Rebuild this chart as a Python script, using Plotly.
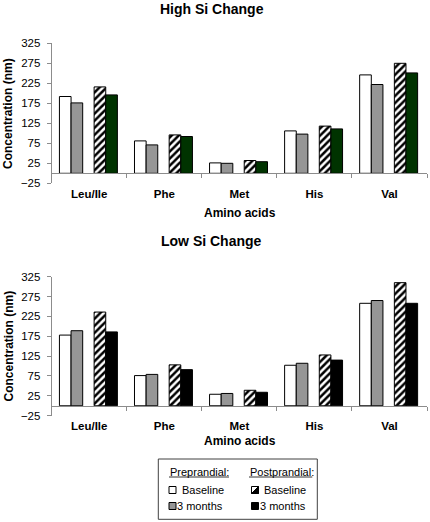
import plotly.graph_objects as go

categories = ["Leu/Ile", "Phe", "Met", "His", "Val"]

# High Si Change
high_pre_baseline = [192, 81, 26, 106, 246]
high_pre_3months = [176, 71, 25, 98, 222]
high_post_baseline = [216, 96, 32, 118, 275]
high_post_3months = [196, 92, 29, 111, 251]

# Low Si Change
low_pre_baseline = [178, 76, 29, 102, 258]
low_pre_3months = [189, 79, 31, 107, 265]
low_post_baseline = [236, 103, 39, 128, 310]
low_post_3months = [186, 91, 34, 115, 258]

y_tick_vals = [-25, 25, 75, 125, 175, 225, 275, 325]

W, H = 430, 522
FONT = "Arial, Liberation Sans, sans-serif"
GRAY = "#969696"
AXIS = "#8c8c8c"


def px(x, y):
    return x / W, 1 - y / H


fig = go.Figure()

bar_w = 0.155
offsets = [-0.397, -0.242, 0.065, 0.220]


def add_group(xa, ya, vals, dark):
    specs = [
        ("Baseline", vals[0], dict(color="white")),
        ("3 months", vals[1], dict(color=GRAY)),
        ("Baseline", vals[2], dict(color="white", pattern=dict(shape="/", fgcolor="black", bgcolor="white", size=5, solidity=0.5))),
        ("3 months", vals[3], dict(color=dark)),
    ]
    for (name, v, mk), off in zip(specs, offsets):
        mk = dict(mk)
        mk["line"] = dict(color="black", width=1)
        fig.add_trace(go.Bar(
            x=categories, y=v, name=name, marker=mk, width=bar_w, offset=off,
            xaxis=xa, yaxis=ya, showlegend=False, hoverinfo="skip",
        ))


add_group("x", "y", [high_pre_baseline, high_pre_3months, high_post_baseline, high_post_3months], "#003300")
add_group("x2", "y2", [low_pre_baseline, low_pre_3months, low_post_baseline, low_post_3months], "#000000")

# invisible traces so the zero-line (category boundary) axes get drawn
fig.add_trace(go.Scatter(x=[None], y=[None], xaxis="x3", yaxis="y", showlegend=False, hoverinfo="skip"))
fig.add_trace(go.Scatter(x=[None], y=[None], xaxis="x4", yaxis="y2", showlegend=False, hoverinfo="skip"))

xdom = [51.7 / W, 427 / W]
top_dom = [1 - 183.3 / H, 1 - 43.3 / H]
bot_dom = [1 - 415.7 / H, 1 - 276.7 / H]


def zero_pos(dom):
    return dom[0] + (dom[1] - dom[0]) * (25 / 350)


common_x = dict(
    domain=xdom, type="category", range=[-0.5, len(categories) - 0.5],
    showline=False, showgrid=False, zeroline=False, ticks="", automargin=False,
    tickfont=dict(family=FONT, size=11.5, color="black", weight="bold"),
    ticklabelstandoff=2,
)
common_y = dict(
    range=[-25, 325], tickvals=y_tick_vals, showgrid=False, zeroline=False,
    showline=True, linecolor=AXIS, linewidth=1, ticks="outside", ticklen=4,
    tickcolor=AXIS, tickfont=dict(family=FONT, size=11.5, color="black"),
    ticklabelstandoff=4, automargin=False,
)
bound_x = dict(
    domain=xdom, range=[-0.5, len(categories) - 0.5], anchor="free", type="linear",
    tickvals=[i + 0.5 for i in range(len(categories))], showticklabels=False,
    ticks="outside", ticklen=4, tickcolor=AXIS, showline=True, linecolor=AXIS,
    linewidth=1, showgrid=False, zeroline=False, automargin=False,
)

fig.update_layout(
    template="none",
    width=W, height=H, margin=dict(l=0, r=0, t=0, b=0, autoexpand=False),
    paper_bgcolor="white", plot_bgcolor="white", barmode="overlay",
    showlegend=False, hovermode=False,
    xaxis=dict(common_x, anchor="y"),
    yaxis=dict(common_y, domain=top_dom, anchor="x"),
    xaxis2=dict(common_x, anchor="y2"),
    yaxis2=dict(common_y, domain=bot_dom, anchor="x2"),
    xaxis3=dict(bound_x, overlaying="x", position=zero_pos(top_dom)),
    xaxis4=dict(bound_x, overlaying="x2", position=zero_pos(bot_dom)),
)

ann = []


def text(x, y, s, size, bold=False, anchor="center", angle=0):
    xx, yy = px(x, y)
    ann.append(dict(
        x=xx, y=yy, xref="paper", yref="paper", text=s, showarrow=False,
        xanchor=anchor, yanchor="middle", textangle=angle,
        font=dict(family=FONT, size=size, color="black", weight="bold" if bold else "normal"),
    ))


text(211.7, 8.8, "High Si Change", 14, True)
text(211.7, 240.7, "Low Si Change", 14, True)
text(8.5, 113.5, "Concentration (nm)", 12, True, angle=-90)
text(8.5, 346, "Concentration (nm)", 12, True, angle=-90)
text(240, 212.5, "Amino acids", 12, True)
text(240, 440.5, "Amino acids", 12, True)

# Legend (custom two-column box)
text(167.5, 471.7, "Preprandial:", 11, anchor="left")
text(247.5, 471.7, "Postprandial:", 11, anchor="left")
text(179.5, 489.7, "Baseline", 11, anchor="left")
text(175.2, 506, "3 months", 11, anchor="left")
text(261.8, 489.7, "Baseline", 11, anchor="left")
text(257.5, 506, "3 months", 11, anchor="left")

shapes = []


def rect(x0, y0, x1, y1, fill, line="black", lw=1):
    a = px(x0, y1)
    b = px(x1, y0)
    shapes.append(dict(type="rect", xref="paper", yref="paper", x0=a[0], y0=a[1], x1=b[0], y1=b[1],
                       fillcolor=fill, line=dict(color=line, width=lw)))


def line(x0, y0, x1, y1, color="black", lw=1):
    a = px(x0, y0)
    b = px(x1, y1)
    shapes.append(dict(type="line", xref="paper", yref="paper", x0=a[0], y0=a[1], x1=b[0], y1=b[1],
                       line=dict(color=color, width=lw)))


rect(158.3, 459, 317.3, 519.3, "rgba(0,0,0,0)", line="#404040", lw=1)
line(169, 477, 229, 477, lw=0.8)
line(249, 477, 312.3, 477, lw=0.8)
rect(169, 486.5, 176, 493.5, "white")
rect(169, 502.5, 176, 509.5, GRAY)
rect(251.5, 486.5, 258.5, 493.5, "white")
a = px(251.5, 493.5)
b = px(258.5, 486.5)
shapes.append(dict(type="path", xref="paper", yref="paper",
                   path=f"M {a[0]},{a[1]} L {b[0]},{b[1]} L {b[0]},{a[1]} Z",
                   fillcolor="black", line=dict(color="black", width=1)))
rect(251.5, 502.5, 258.5, 509.5, "black")

fig.update_layout(annotations=ann, shapes=shapes)

fig.write_html(
    "out.html",
    config={"displayModeBar": False, "staticPlot": True},
    post_script="document.body.style.margin='0';document.body.style.padding='0';",
)
